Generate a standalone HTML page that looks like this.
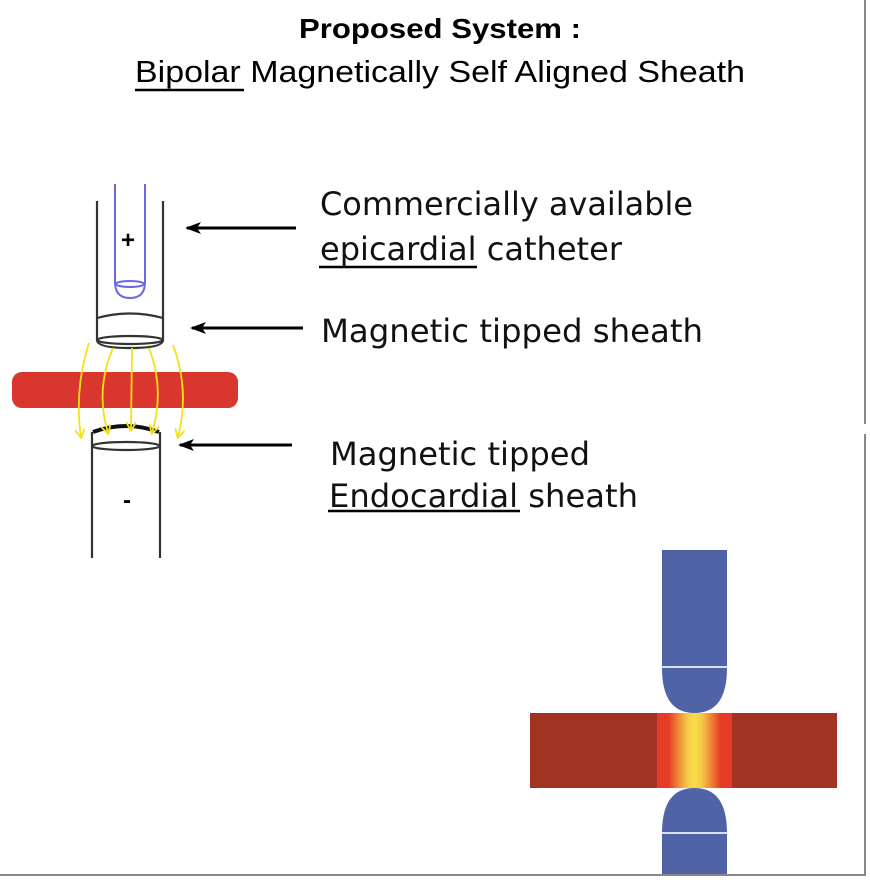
<!DOCTYPE html>
<html><head><meta charset="utf-8"><style>html,body{margin:0;padding:0;background:#fff}svg{display:block}</style></head>
<body>
<svg width="870" height="880" viewBox="0 0 870 880" xmlns="http://www.w3.org/2000/svg">
<defs>
<linearGradient id="hg" x1="0" x2="1" y1="0" y2="0">
<stop offset="0" stop-color="#e63b25"/><stop offset="0.15" stop-color="#e63b25"/>
<stop offset="0.4" stop-color="#f5c845"/><stop offset="0.5" stop-color="#f8dc4a"/>
<stop offset="0.6" stop-color="#f5c845"/><stop offset="0.85" stop-color="#e63b25"/><stop offset="1" stop-color="#e63b25"/>
</linearGradient>
<marker id="ah" markerWidth="16" markerHeight="14" refX="14" refY="7" orient="auto" markerUnits="userSpaceOnUse"><path d="M0,1 L16,7 L0,13 L4,7 Z" fill="#000"/></marker>
<marker id="ya" markerWidth="10" markerHeight="10" refX="8" refY="5" orient="auto" markerUnits="userSpaceOnUse"><path d="M0,0 L9,5 L0,10" fill="none" stroke="#f2e21c" stroke-width="1.8"/></marker>
</defs>
<line x1="865" y1="0" x2="865" y2="424" stroke="#888" stroke-width="2"/>
<line x1="865" y1="434" x2="865" y2="876" stroke="#888" stroke-width="2"/>
<line x1="0" y1="875" x2="866" y2="875" stroke="#888" stroke-width="2"/>
<text x="440" y="38" text-anchor="middle" font-family="Liberation Sans, sans-serif" font-weight="bold" font-size="28" textLength="282" lengthAdjust="spacingAndGlyphs">Proposed System :</text>
<text x="135" y="82" font-family="Liberation Sans, sans-serif" font-size="31" textLength="610" lengthAdjust="spacingAndGlyphs">Bipolar Magnetically Self Aligned Sheath</text>
<line x1="135" y1="90" x2="244" y2="90" stroke="#000" stroke-width="2.5"/>
<g font-family="DejaVu Sans, sans-serif" font-size="32" fill="#111">
<text x="320" y="215" textLength="373" lengthAdjust="spacingAndGlyphs">Commercially available</text>
<text x="320" y="260" textLength="302" lengthAdjust="spacingAndGlyphs">epicardial catheter</text>
<text x="321" y="342" textLength="382" lengthAdjust="spacingAndGlyphs">Magnetic tipped sheath</text>
<text x="330" y="465" textLength="260" lengthAdjust="spacingAndGlyphs">Magnetic tipped</text>
<text x="329" y="507" textLength="309" lengthAdjust="spacingAndGlyphs">Endocardial sheath</text>
</g>
<line x1="319" y1="267" x2="477" y2="267" stroke="#000" stroke-width="2.5"/>
<line x1="328" y1="511" x2="520" y2="511" stroke="#000" stroke-width="2.5"/>
<g stroke="#000" stroke-width="3">
<line x1="296" y1="228" x2="187" y2="228" marker-end="url(#ah)"/>
<line x1="303" y1="328" x2="192" y2="328" marker-end="url(#ah)"/>
<line x1="292" y1="445" x2="180" y2="445" marker-end="url(#ah)"/>
</g>
<g fill="none" stroke="#333" stroke-width="2.2">
<line x1="97" y1="201" x2="97" y2="340"/>
<line x1="163" y1="201" x2="163" y2="340"/>
<path d="M97,318 Q130,309 163,318"/>
<path d="M97,340 Q97,348 130,348 Q163,348 163,340"/>
<ellipse cx="130" cy="340" rx="33" ry="4"/>
</g>
<g fill="none" stroke="#6a6ae0" stroke-width="2">
<line x1="115" y1="184" x2="115" y2="282"/>
<line x1="145" y1="184" x2="145" y2="282"/>
<path d="M115,282 Q115,298 130,298 Q145,298 145,282"/>
<ellipse cx="130" cy="284" rx="14" ry="3"/>
</g>
<text x="128" y="248" text-anchor="middle" font-family="Liberation Sans, sans-serif" font-size="24" font-weight="bold">+</text>
<rect x="12" y="372" width="226" height="36" rx="10" fill="#d9362e"/>
<g fill="none" stroke="#333" stroke-width="2.2">
<line x1="92" y1="432" x2="92" y2="558"/>
<line x1="160" y1="432" x2="160" y2="558"/>
<path d="M93,432 Q126,420 159,432" stroke-width="4" stroke="#111"/>
<ellipse cx="126" cy="446" rx="34" ry="4"/>
</g>
<text x="127" y="508" text-anchor="middle" font-family="Liberation Sans, sans-serif" font-size="24" font-weight="bold">-</text>
<g fill="none" stroke="#f2e21c" stroke-width="1.8">
<path d="M89,343 Q74,390 81,437" marker-end="url(#ya)"/>
<path d="M113,348 Q95,390 108,433" marker-end="url(#ya)"/>
<path d="M132,348 L131,430" marker-end="url(#ya)"/>
<path d="M149,348 Q165,390 152,433" marker-end="url(#ya)"/>
<path d="M173,345 Q190,390 178,437" marker-end="url(#ya)"/>
</g>
<rect x="530" y="713" width="307" height="75" fill="#a03322"/>
<rect x="657" y="713" width="75" height="75" fill="url(#hg)"/>
<path d="M662,550 L727,550 L727,668 Q727,713 694.5,713 Q662,713 662,668 Z" fill="#5063a6"/>
<line x1="662" y1="667" x2="727" y2="667" stroke="#dde" stroke-width="2"/>
<path d="M662,874 L662,833 Q662,788 694.5,788 Q727,788 727,833 L727,874 Z" fill="#5063a6"/>
<line x1="662" y1="833" x2="727" y2="833" stroke="#dde" stroke-width="2"/>
</svg>
</body></html>
